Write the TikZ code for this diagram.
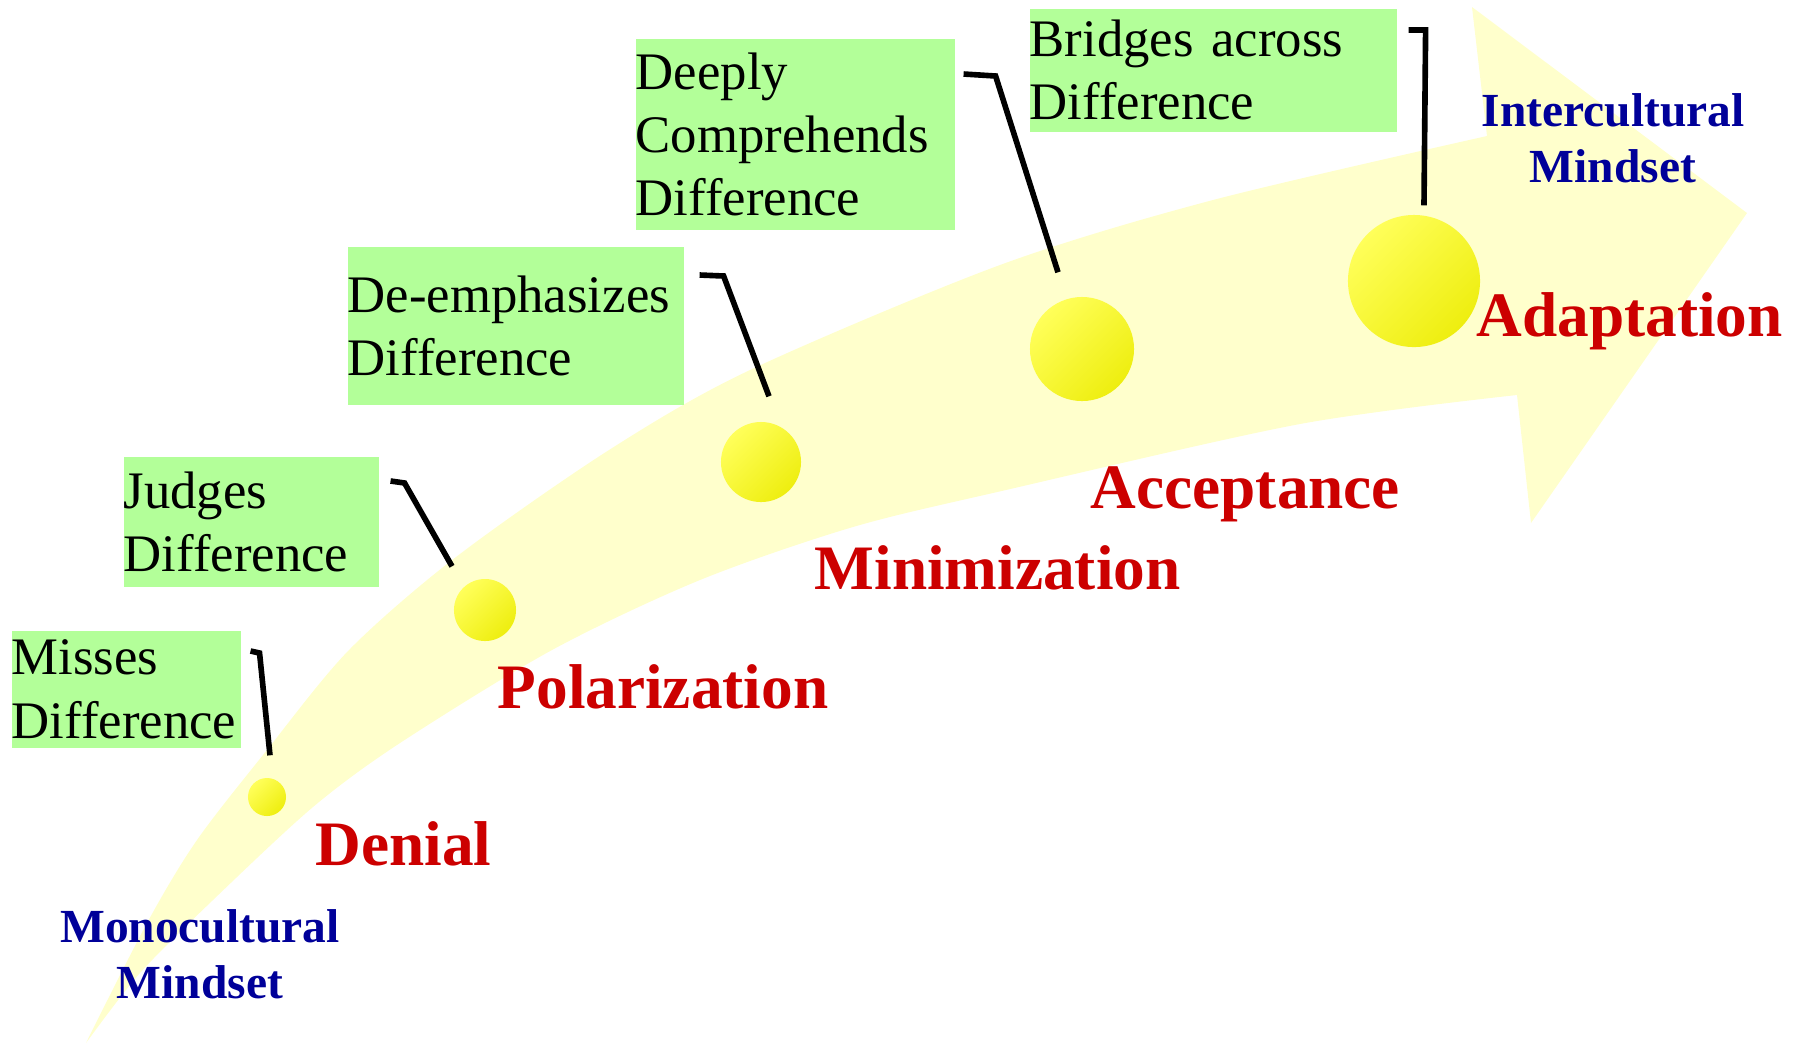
\documentclass[tikz,border=0pt]{standalone}
\usepackage{fontspec}
\setmainfont{Liberation Serif}
\usetikzlibrary{positioning, calc}
\definecolor{bandyellow}{RGB}{255,255,204}
\definecolor{boxgreen}{RGB}{179,255,153}
\definecolor{stagered}{RGB}{204,0,0}
\definecolor{mindblue}{RGB}{0,0,153}
\definecolor{balltop}{RGB}{255,255,90}
\definecolor{ballbot}{RGB}{238,238,15}
\tikzset{
  diffbox/.style={rectangle, fill=boxgreen, anchor=north west, inner xsep=0pt,
    inner ysep=0pt, align=left, font=\fontsize{15}{18}\selectfont},
  stageball/.style={circle, inner sep=0pt, top color=balltop, bottom color=ballbot,
    shading angle=45},
  stagelabel/.style={anchor=base west, inner sep=0pt, text=stagered,
    font=\fontsize{18}{21}\selectfont\bfseries},
  mindlabel/.style={align=center, inner sep=0pt, text=mindblue,
    font=\fontsize{13.5}{16}\selectfont\bfseries},
  leader/.style={line width=1.6pt},
}

\begin{document}
\begin{tikzpicture}[x=0.01cm, y=-0.01cm]
  \useasboundingbox (0,0) rectangle (1796,1044);

  % curved band arrow
  \fill[bandyellow] plot[smooth] coordinates {(86,1043) (147,923) (197,840) (267,750) (349,650) (456,557)
      (609,450) (750,370) (1000,265) (1213,200) (1487,136)}
    -- (1472,7) -- (1747,213) -- (1531,523) -- (1517,395)
    -- plot[smooth] coordinates {(1517,395) (1300,424) (1006,490) (853,527) (700,580) (552,650)
      (400,743) (313,807) (213,900) (140,973) (86,1043)} -- cycle;

  % stages
  \node[stageball, minimum size=0.38cm] (denial) at (267,797) {};
  \node[stageball, minimum size=0.62cm] (polar) at (485,610) {};
  \node[stageball, minimum size=0.80cm] (minim) at (761,462) {};
  \node[stageball, minimum size=1.04cm] (accept) at (1082,349) {};
  \node[stageball, minimum size=1.32cm] (adapt) at (1414,281) {};

  \node[stagelabel] (denialtxt) at (315,865) {Denial};
  \node[stagelabel] (polartxt) at (497,708) {Polarization};
  \node[stagelabel] (minimtxt) at (814,589) {Minimization};
  \node[stagelabel] (accepttxt) at (1090,508) {Acceptance};
  \node[stagelabel] (adapttxt) at (1476,336) {Adaptation};

  % descriptions
  \node[diffbox, text width=2.29cm, minimum height=1.17cm] (misses) at (11,630) {Misses\\Difference};
  \node[diffbox, text width=2.55cm, minimum height=1.30cm] (judges) at (123,456) {Judges\\Difference};
  \node[diffbox, text width=3.36cm, minimum height=1.58cm] (deemph) at (347,246) {De-emphasizes\\Difference};
  \node[diffbox, text width=3.19cm, minimum height=1.91cm] (deeply) at (635,38) {Deeply\\Comprehends\\Difference};
  \node[diffbox, text width=3.67cm, minimum height=1.23cm] (bridges) at (1029,8) {Bridges across\\Difference};

  \draw[leader] ([shift={(9,21)}]misses.north east) -- ++(9,2) -- ([shift={(3,-22)}]denial.north);
  \draw[leader] ([shift={(11,25)}]judges.north east) -- ++(14,2) -- ([shift={(-33,-12)}]polar.north);
  \draw[leader] ([shift={(15,29)}]deemph.north east) -- ++(24,1) -- ([shift={(8,-25)}]minim.north);
  \draw[leader] ([shift={(8,36)}]deeply.north east) -- ++(32,2) -- ([shift={(-24,-24)}]accept.north);
  \draw[leader] ([shift={(11,22)}]bridges.north east) -- ++(17,0) -- ([shift={(10,-9)}]adapt.north);

  % mindsets
  \node[mindlabel] (mono) at (200,954) {Monocultural\\Mindset};
  \node[mindlabel] (inter) at (1613,138) {Intercultural\\Mindset};
\end{tikzpicture}
\end{document}
